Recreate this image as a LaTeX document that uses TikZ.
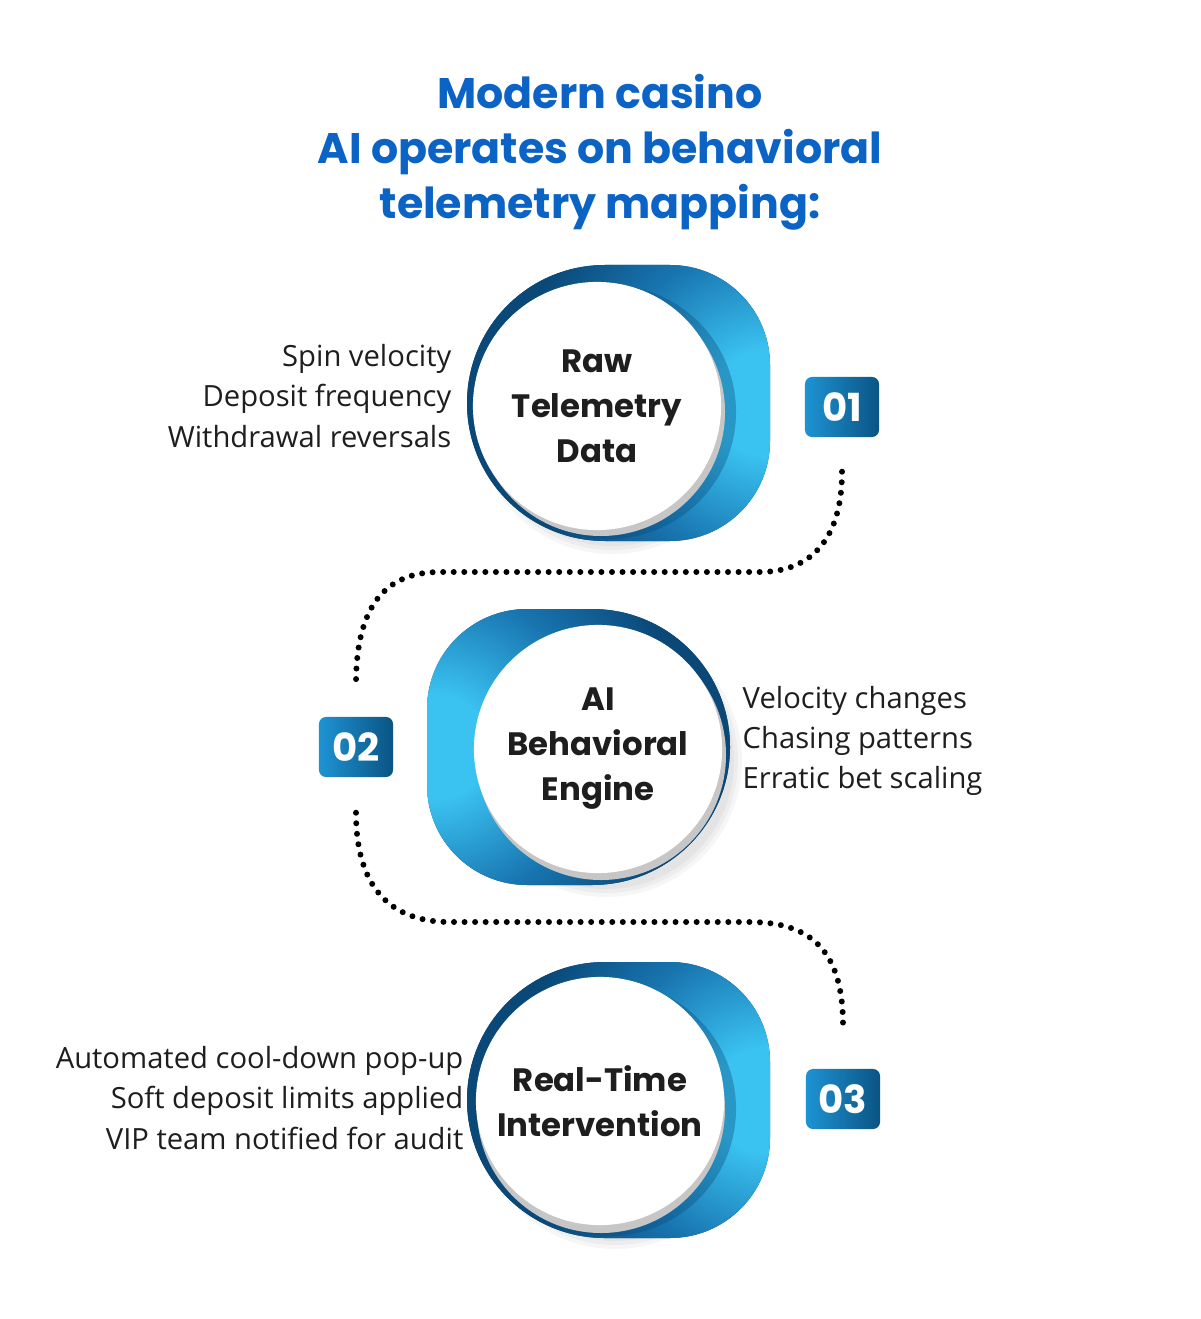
\documentclass[tikz,border=0pt]{standalone}
\usepackage{fontspec}
\setmainfont{Open Sans}
\newfontfamily\headfont{Poppins}
\usetikzlibrary{calc,positioning}
\definecolor{ink}{HTML}{1E1E1E}
\definecolor{headblue}{HTML}{0B63C5}
\definecolor{skyA}{HTML}{3AC2F0}
\definecolor{blueB}{HTML}{1874AF}
\definecolor{navyA}{HTML}{0A4878}
\definecolor{badgeA}{HTML}{1E93D3}
\definecolor{badgeB}{HTML}{0A5484}
\pgfdeclareradialshading{glow}{\pgfpoint{0bp}{0bp}}{color(0bp)=(skyA); color(4bp)=(skyA); color(12bp)=(blueB); color(19bp)=(navyA); color(50bp)=(navyA)}

\begin{document}
\begin{tikzpicture}[x=0.01cm, y=0.01cm,
  disc/.style={circle, fill=white, minimum size=2.48cm, inner sep=0pt, align=center,
    text=ink, font=\headfont\bfseries\fontsize{9.2}{12.8}\selectfont},
  notes/.style={text=ink, inner sep=0pt, font=\fontsize{8.3}{11.4}\selectfont},
  badge/.style={rounded corners=2pt, minimum width=0.74cm, minimum height=0.6cm, inner sep=0pt,
    left color=badgeA, right color=badgeB, text=white, font=\headfont\bfseries\fontsize{11}{11}\selectfont},
  dots/.style={black, line width=1.7pt, line cap=round, dash pattern=on 0pt off 3pt}]
  \useasboundingbox (0,0) rectangle (1200,-1319);
  \fill[white] (0,0) rectangle (1200,-1319);

  % title
  \node[text=headblue, align=center, font=\headfont\bfseries\fontsize{12.15}{15.6}\selectfont] (title) at (600,-152)
    {Modern casino\\AI operates on behavioral\\telemetry mapping:};

  % soft shadows
  \foreach \sx/\sy in {612/-418, 606/-761, 615/-1113}
    \foreach \r in {128,132,136}
      \fill[black, opacity=0.035] (\sx,\sy) circle (\r);

  % blue sleeves, opening to the right (steps 1 and 3)
  \foreach \cy in {-403,-1100}{
    \begin{scope}
      \clip (605,\cy+138) -- (670,\cy+138) arc[start angle=90, end angle=0, radius=100]
        -- (770,\cy-38) arc[start angle=0, end angle=-90, radius=100]
        -- (605,\cy-138) arc[start angle=-90, end angle=-270, radius=138] -- cycle;
      \fill[navyA] (600,\cy) circle (200);
      \shade[shading=glow] (765,\cy) circle (330);
      \fill[navyA, opacity=0.35] (609,\cy-9) circle (127);
      \fill[gray!45] (601,\cy-9) circle (124);
    \end{scope}
  }
  % blue sleeve, opening to the left (step 2)
  \begin{scope}
    \clip (592,-609) -- (527,-609) arc[start angle=90, end angle=180, radius=100]
      -- (427,-785) arc[start angle=180, end angle=270, radius=100]
      -- (592,-885) arc[start angle=-90, end angle=90, radius=138] -- cycle;
    \fill[navyA] (600,-747) circle (200);
    \shade[shading=glow] (435,-747) circle (330);
  \end{scope}
  \fill[gray!45] (601,-755) circle (125);

  % steps
  \node[disc] (raw) at (597,-406) {Raw\\Telemetry\\Data};
  \node[disc] (engine) at (598,-749) {AI\\Behavioral\\Engine};
  \node[disc] (live) at (600,-1101) {Real-Time\\Intervention};

  \node[notes, align=right, anchor=east] (rawnotes) at (452,-396)
    {Spin velocity\\Deposit frequency\\Withdrawal reversals};
  \node[notes, align=left, anchor=west] (enginenotes) at (742,-741)
    {Velocity changes\\Chasing patterns\\Erratic bet scaling};
  \node[notes, align=right, anchor=east] (livenotes) at (464,-1098)
    {Automated cool-down pop-up\\Soft deposit limits applied\\VIP team notified for audit};

  % numbers
  \node[badge] (b1) at (842,-407) {01};
  \node[badge] (b2) at (356,-747) {02};
  \node[badge] (b3) at (843,-1099) {03};

  % dotted links
  \coordinate (k1) at (760,-572);
  \coordinate (k2) at (440,-572);
  \coordinate (k3) at (450,-922);
  \coordinate (k4) at (750,-922);
  \draw[dots] ($(b1.south)+(0,-34)$) .. controls +(0,-74) and +(45,0) .. (k1) -- (k2)
    .. controls +(-55,0) and +(0,78) .. ($(b2.north)+(0,32)$);
  \draw[dots] ($(b2.south)+(0,-35)$) .. controls +(0,-72) and +(-62,0) .. (k3) -- (k4)
    .. controls +(65,0) and +(0,70) .. ($(b3.north)+(0,43)$);
\end{tikzpicture}
\end{document}
